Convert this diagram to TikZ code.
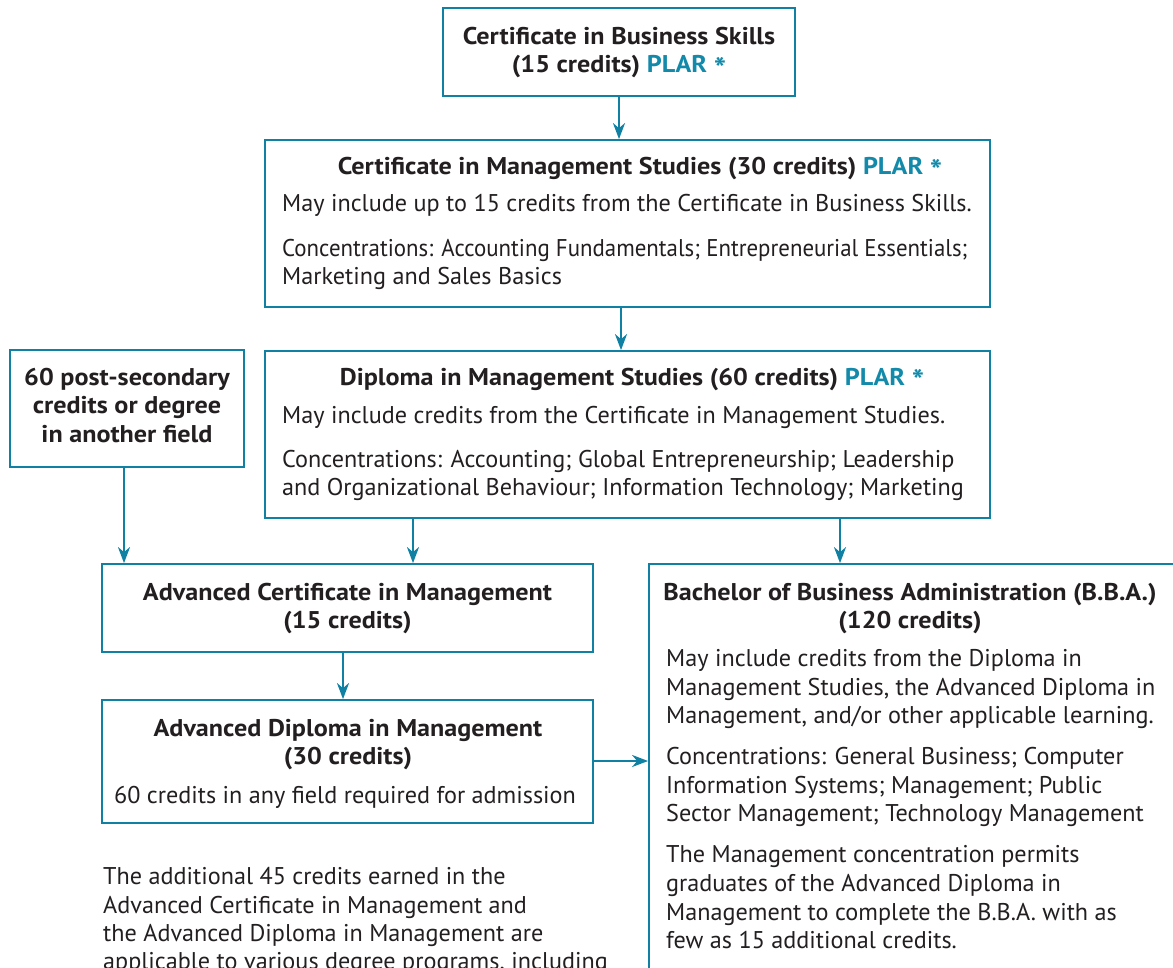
\documentclass[tikz,border=0pt]{standalone}
\usepackage{fontspec}
\setmainfont{PT Sans}[BoldFeatures={FakeStretch=1.08}]
\usetikzlibrary{arrows.meta}
\definecolor{lineblue}{RGB}{16,128,163}
\definecolor{plarblue}{RGB}{20,138,170}
\definecolor{ink}{RGB}{35,31,32}
\newcommand{\plar}{\textcolor{plarblue}{PLAR \raisebox{-0.5ex}{\scalebox{1.25}{*}}}}
\tikzset{
  box/.style={draw=lineblue, line width=1.8pt, fill=white, inner sep=0pt},
  txt/.style={inner sep=0pt, text=ink, font=\fontsize{24.2}{28}\selectfont},
  btxt/.style={txt, font=\fontsize{24.2}{28}\selectfont\bfseries},
  arr/.style={draw=lineblue, line width=2.2pt, -{Stealth[length=16pt,width=12pt,inset=5pt]}},
}
\begin{document}
\begin{tikzpicture}[x=1pt,y=-1pt]
\useasboundingbox (0,0) rectangle (1173,968);
\clip (0,0) rectangle (1173,968);
% boxes
\node[box, minimum width=352pt, minimum height=88pt] (n1) at (619,52) {};
\node[box, minimum width=725pt, minimum height=167pt] (n2) at (627.5,223.5) {};
\node[box, minimum width=725pt, minimum height=167pt] (n3) at (627.5,434.5) {};
\node[box, minimum width=234pt, minimum height=117pt] (n0) at (127,408.5) {};
\node[box, minimum width=491pt, minimum height=88pt] (n4) at (347.5,608) {};
\node[box, minimum width=491pt, minimum height=123pt] (n5) at (347.5,761.5) {};
\node[box, minimum width=536pt, minimum height=426pt] (n6) at (917,777) {};
% column coordinates
\coordinate (c1) at (619,0);
\coordinate (c2) at (621,0);
\coordinate (c3) at (413,0);
\coordinate (c4) at (840,0);
\coordinate (c5) at (124,0);
\coordinate (c6) at (343,0);
\coordinate (r1) at (0,761);
% connectors
\draw[arr] (n1.south -| c1) -- (n2.north -| c1);
\draw[arr] (n2.south -| c2) -- (n3.north -| c2);
\draw[arr] (n0.south -| c5) -- (n4.north -| c5);
\draw[arr] (n3.south -| c3) -- (n4.north -| c3);
\draw[arr] (n3.south -| c4) -- (n6.north -| c4);
\draw[arr] (n4.south -| c6) -- (n5.north -| c6);
\draw[arr] (n5.east |- r1) -- (n6.west |- r1);
% box 1
\node[btxt, anchor=base] (t1a) at (619,45) {Certificate in Business Skills};
\node[btxt, anchor=base] (t1b) at (619,73) {(15 credits) \plar};
% box 2
\node[btxt, anchor=base] (t2a) at (640,175) {Certificate in Management Studies (30 credits) \plar};
\node[txt, anchor=base west] (t2b) at (282,212) {May include up to 15 credits from the Certificate in Business Skills.};
\node[txt, anchor=base west] (t2c) at (282,257) {\scalebox{0.945}[1]{Concentrations: Accounting Fundamentals; Entrepreneurial Essentials;}};
\node[txt, anchor=base west] (t2d) at (282,285) {Marketing and Sales Basics};
% box 3
\node[btxt, anchor=base] (t3a) at (632,385) {Diploma in Management Studies (60 credits) \plar};
\node[txt, anchor=base west] (t3b) at (282,423) {May include credits from the Certificate in Management Studies.};
\node[txt, anchor=base west] (t3c) at (282,467) {Concentrations: Accounting; Global Entrepreneurship; Leadership};
\node[txt, anchor=base west] (t3d) at (282,495) {and Organizational Behaviour; Information Technology; Marketing};
% left box
\node[btxt, anchor=base] (t0a) at (127,385) {60 post-secondary};
\node[btxt, anchor=base] (t0b) at (127,413) {credits or degree};
\node[btxt, anchor=base] (t0c) at (127,442) {in another field};
% advanced certificate
\node[btxt, anchor=base] (t4a) at (347.5,600) {Advanced Certificate in Management};
\node[btxt, anchor=base] (t4b) at (347.5,628) {(15 credits)};
% advanced diploma
\node[btxt, anchor=base] (t5a) at (348,736) {Advanced Diploma in Management};
\node[btxt, anchor=base] (t5b) at (348,764) {(30 credits)};
\node[txt, anchor=base] (t5c) at (345,803) {60 credits in any field required for admission};
% BBA
\node[btxt, anchor=base] (t6a) at (910,600) {Bachelor of Business Administration (B.B.A.)};
\node[btxt, anchor=base] (t6b) at (910,628) {(120 credits)};
\node[txt, anchor=base west] (t6c) at (666,666) {May include credits from the Diploma in};
\node[txt, anchor=base west] (t6d) at (666,695) {Management Studies, the Advanced Diploma in};
\node[txt, anchor=base west] (t6e) at (666,723) {Management, and/or other applicable learning.};
\node[txt, anchor=base west] (t6f) at (666,764) {Concentrations: General Business; Computer};
\node[txt, anchor=base west] (t6g) at (666,793) {Information Systems; Management; Public};
\node[txt, anchor=base west] (t6h) at (666,821) {Sector Management; Technology Management};
\node[txt, anchor=base west] (t6i) at (666,862) {The Management concentration permits};
\node[txt, anchor=base west] (t6j) at (666,891) {graduates of the Advanced Diploma in};
\node[txt, anchor=base west] (t6k) at (666,920) {Management to complete the B.B.A. with as};
\node[txt, anchor=base west] (t6l) at (666,948) {few as 15 additional credits.};
% bottom note
\node[txt, anchor=base west] (b1) at (103,884) {The additional 45 credits earned in the};
\node[txt, anchor=base west] (b2) at (103,913) {Advanced Certificate in Management and};
\node[txt, anchor=base west] (b3) at (103,941) {the Advanced Diploma in Management are};
\node[txt, anchor=base west] (b4) at (103,969) {applicable to various degree programs, including};
\end{tikzpicture}
\end{document}
